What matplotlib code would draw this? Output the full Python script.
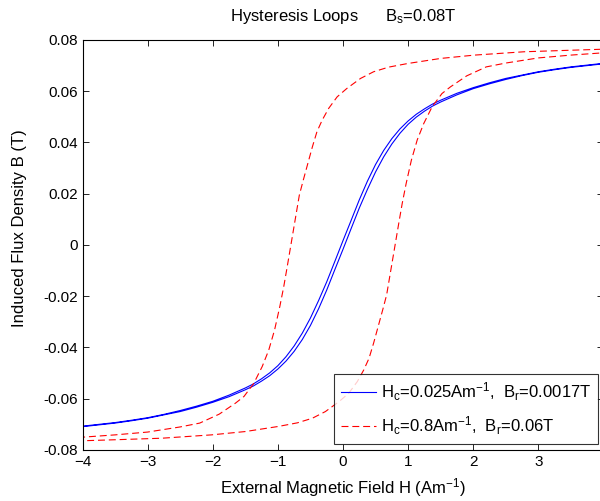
import numpy as np
import matplotlib
matplotlib.use("Agg")
import matplotlib.pyplot as plt

plt.rcParams['font.family'] = ['Liberation Sans', 'DejaVu Sans']
plt.rcParams['mathtext.fontset'] = 'custom'
plt.rcParams['mathtext.rm'] = 'Liberation Sans'
plt.rcParams['mathtext.it'] = 'Liberation Sans:italic'
plt.rcParams['lines.scale_dashes'] = False

# soft loop (Hc=0.025, Br=0.0017), descending branch
blue_h_down = [-4.0, -3.75, -3.5, -3.25, -3.0, -2.75, -2.5, -2.25, -2.0, -1.75, -1.5, -1.375,
               -1.25, -1.125, -1.0, -0.875, -0.75, -0.625, -0.5, -0.375, -0.25, -0.125, 0.0,
               0.125, 0.25, 0.375, 0.5, 0.625, 0.75, 0.875, 1.0, 1.125, 1.25, 1.375, 1.5,
               1.75, 2.0, 2.25, 2.5, 2.75, 3.0, 3.25, 3.5, 3.75, 4.0]
blue_b_down = [-0.0707, -0.0700, -0.0693, -0.0684, -0.0674, -0.0661, -0.0646, -0.0629, -0.0610,
               -0.0586, -0.0558, -0.0542, -0.0522, -0.0499, -0.0471, -0.0436, -0.0394, -0.0344,
               -0.0285, -0.0217, -0.0144, -0.0064, 0.0017, 0.0096, 0.0176, 0.0249, 0.0314,
               0.0369, 0.0415, 0.0453, 0.0484, 0.0510, 0.0531, 0.0550, 0.0565, 0.0592, 0.0614,
               0.0633, 0.0650, 0.0663, 0.0676, 0.0686, 0.0695, 0.0702, 0.0709]

# hard loop (Hc=0.8, Br=0.06), descending branch
red_h_down = [-4.0, -3.5, -3.0, -2.5, -2.2, -1.9, -1.65, -1.52, -1.37, -1.24, -1.14, -1.05,
              -0.97, -0.91, -0.86, -0.80, -0.73, -0.67, -0.61, -0.54, -0.47, -0.40, -0.32,
              -0.22, -0.09, 0.06, 0.27, 0.47, 0.70, 0.99, 1.50, 2.02, 2.78, 3.50, 4.0]
red_b_down = [-0.0750, -0.0741, -0.0730, -0.0710, -0.0695, -0.0660, -0.0617, -0.0591, -0.0540,
              -0.0474, -0.0410, -0.0331, -0.0240, -0.0163, -0.0090, 0.0000, 0.0105, 0.0195,
              0.0253, 0.0318, 0.0383, 0.0442, 0.0487, 0.0533, 0.0578, 0.0611, 0.0650, 0.0676,
              0.0694, 0.0708, 0.0728, 0.0741, 0.0754, 0.0760, 0.0764]

labels = [r'H$_{\rm c}$=0.025Am$^{-1}$,  B$_{\rm r}$=0.0017T',
          r'H$_{\rm c}$=0.8Am$^{-1}$,  B$_{\rm r}$=0.06T']


def loop(h_down, b_down):
    # ascending branch is the point reflection of the descending one
    h_down = np.array(h_down)
    b_down = np.array(b_down)
    h = np.concatenate([h_down[::-1], -h_down[::-1]])
    b = np.concatenate([b_down[::-1], -b_down[::-1]])
    return h, b


fig = plt.figure(figsize=(6.0, 5.01), dpi=100)
ax = fig.add_axes([0.1375, 0.1018, 0.8683, 0.8184])

h, b = loop(blue_h_down, blue_b_down)
ax.plot(h, b, color='#0000ff', lw=0.8, label=labels[0])
h, b = loop(red_h_down, red_b_down)
ax.plot(h, b, color='#ff0000', lw=0.8, dashes=(5, 2.8), label=labels[1])

yt = np.arange(-0.08, 0.081, 0.02)
ax.set_xlim(-4, 4)
ax.set_ylim(-0.08, 0.08)
ax.set_xticks(np.arange(-4, 5, 1))
ax.set_yticks(yt)
ax.set_yticklabels(['%g' % v if abs(v) > 1e-9 else '0' for v in yt])
ax.tick_params(direction='in', length=4, width=0.6, top=True, right=True, labelsize=11)
for s in ax.spines.values():
    s.set_linewidth(0.8)

ax.set_xlabel(r'External Magnetic Field H (Am$^{-1}$)', fontsize=12, labelpad=5)
ax.set_ylabel('Induced Flux Density B (T)', fontsize=12)
ax.yaxis.set_label_coords(-0.107, 0.54)
ax.set_title(r'Hysteresis Loops      B$_{\rm s}$=0.08T', fontsize=12, pad=14)

leg = ax.legend(loc='lower right', bbox_to_anchor=(0.9894, 0.0146), borderaxespad=0,
                fontsize=12, frameon=True, fancybox=False, edgecolor='black',
                handlelength=2.1, handletextpad=0.3, labelspacing=0.7, borderpad=0.4)
leg.get_frame().set_linewidth(0.8)

fig.savefig('out.png', dpi=100)
